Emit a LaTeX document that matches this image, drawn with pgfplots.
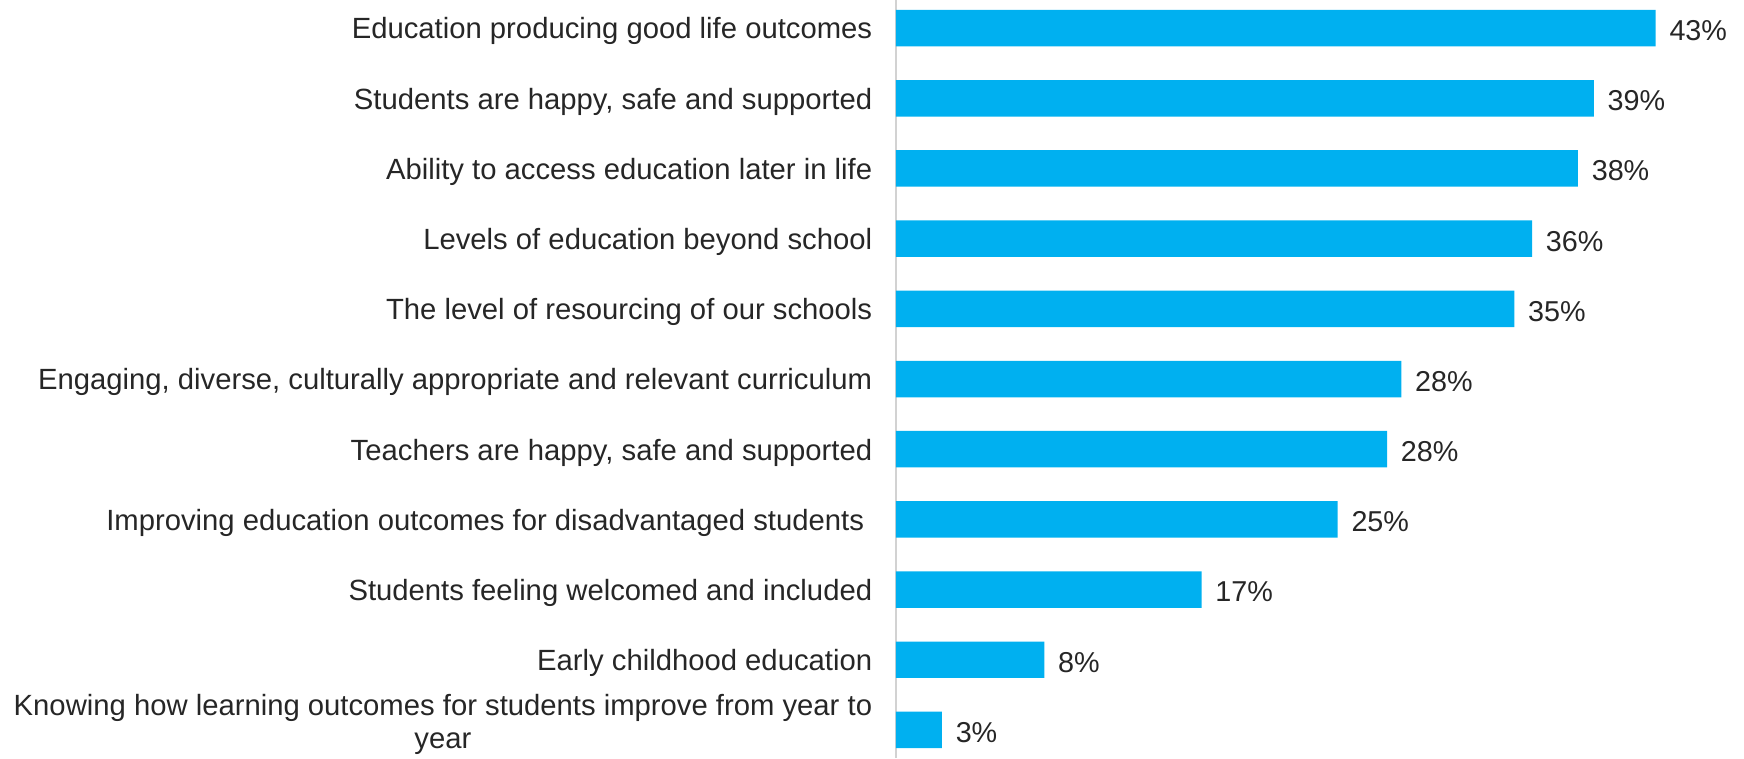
\documentclass[border=0pt]{standalone}
\usepackage{pgfplots}
\pgfplotsset{compat=1.18}
\usepackage{pgfplotstable}
\usepackage{fontspec}
\setmainfont{Liberation Sans}
\definecolor{barblue}{HTML}{00B0F0}
\definecolor{txt}{HTML}{262626}
\pgfplotstableread{
y x lab
0 2.6 3
1 8.4 8
2 17.3 17
3 25.0 25
4 27.8 28
5 28.6 28
6 35.0 35
7 36.0 36
8 38.6 38
9 39.5 39
10 43.0 43
}\data
\begin{document}
\begin{tikzpicture}
\begin{axis}[name=ax,
  scale only axis, width=339.2pt, height=303.2pt,
  xbar, bar width=0.52, bar shift=0pt,
  xmin=0, xmax=48, ymin=-0.4, ymax=10.4,
  hide x axis,
  axis y line*=left, y axis line style={gray!35, line width=0.6pt},
  major tick length=0pt,
  ytick={0.12,1,2,3,4,5,6,7,8,9,10},
  yticklabels={{Knowing how learning outcomes for students improve from year to\\year},
    Early childhood education,
    Students feeling welcomed and included,
    Improving education outcomes for disadvantaged students\ ,
    {Teachers are happy, safe and supported},
    {Engaging, diverse, culturally appropriate and relevant curriculum},
    The level of resourcing of our schools,
    Levels of education beyond school,
    Ability to access education later in life,
    {Students are happy, safe and supported},
    Education producing good life outcomes},
  yticklabel style={font=\fontsize{11.7}{13.2}\selectfont, text=txt, align=center, xshift=-6pt, yshift=-1.3pt},
  point meta=explicit symbolic,
  nodes near coords={\pgfplotspointmeta\%},
  nodes near coords style={font=\fontsize{11.5}{13}\selectfont, text=txt, anchor=west, xshift=2pt, yshift=-1pt},
]
\addplot[fill=barblue, draw=none] table[x=x, y=y, meta=lab] {\data};
\end{axis}
\pgfresetboundingbox
\path[use as bounding box] ([xshift=-358.4pt]ax.south west) rectangle (ax.north east);
\end{tikzpicture}
\end{document}
